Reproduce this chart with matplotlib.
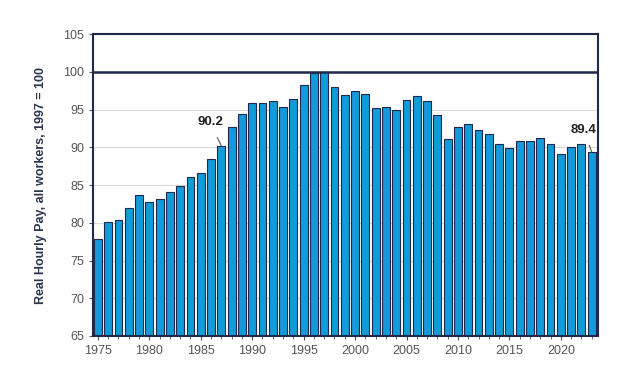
import matplotlib.pyplot as plt

plt.rcParams['font.family'] = ['Liberation Sans', 'DejaVu Sans']

# Real hourly pay index, 1997 = 100
years = list(range(1975, 2024))
pay = [77.8, 80.1, 80.4, 82.0, 83.7, 82.7, 83.1, 84.1, 84.9, 86.1,
       86.6, 88.5, 90.2, 92.7, 94.4, 95.9, 95.9, 96.1, 95.4, 96.4,
       98.3, 99.9, 100.0, 98.0, 97.0, 97.5, 97.1, 95.2, 95.4, 94.9,
       96.3, 96.8, 96.1, 94.3, 91.1, 92.7, 93.1, 92.3, 91.8, 90.4,
       89.9, 90.9, 90.9, 91.2, 90.5, 89.1, 90.1, 90.5, 89.4]
tick_years = [1975, 1980, 1985, 1990, 1995, 2000, 2005, 2010, 2015, 2020]
y_ticks = [65, 70, 75, 80, 85, 90, 95, 100, 105]

navy = '#1f2a4a'
fig = plt.figure(figsize=(6.3, 3.75), dpi=100)
ax = fig.add_axes([0.148, 0.104, 0.801, 0.805])

ax.grid(axis='y', color='#dadada', linewidth=0.8)
ax.set_axisbelow(True)
ax.bar(years, pay, width=0.76, color='#139ad8', edgecolor=navy, linewidth=0.8, zorder=2)
ax.axhline(100, color=navy, linewidth=1.8, zorder=3)

ax.set_ylim(65, 105)
ax.set_xlim(1974.55, 2023.6)
ax.set_yticks(y_ticks)
ax.set_xticks(tick_years)
ax.set_xticks(years, minor=True)
ax.tick_params(axis='both', labelsize=9, colors='#555555', length=3)
ax.tick_params(axis='x', which='minor', length=2, color='#555555')
for s in ax.spines.values():
    s.set_color(navy)
    s.set_linewidth(1.5)

ax.set_ylabel('Real Hourly Pay, all workers, 1997 = 100', fontsize=9,
              fontweight='bold', color='#2a3550', labelpad=12)

# callouts
ax.annotate('90.2', xy=(1987, 90.2), xytext=(1985.9, 93.3), fontsize=9.5,
            fontweight='bold', color='#222222', ha='center', va='center',
            arrowprops=dict(arrowstyle='-', color='#555555', lw=0.8,
                            shrinkA=5, shrinkB=0))
ax.annotate('89.4', xy=(2023, 89.4), xytext=(2022.2, 92.3), fontsize=9.5,
            fontweight='bold', color='#222222', ha='center', va='center',
            arrowprops=dict(arrowstyle='-', color='#555555', lw=0.8,
                            shrinkA=5, shrinkB=0))

fig.savefig('out.png', dpi=100)
